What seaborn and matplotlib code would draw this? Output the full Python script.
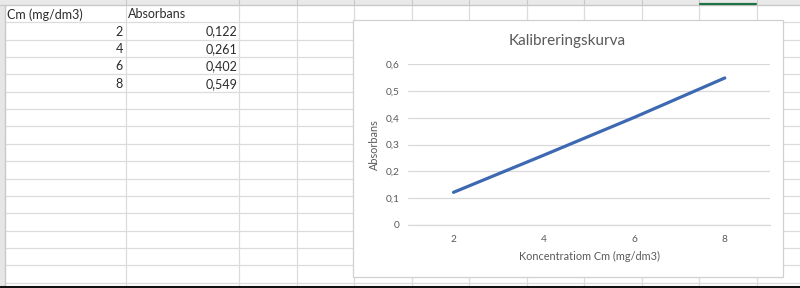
import matplotlib
matplotlib.use("Agg")
import matplotlib.pyplot as plt
import seaborn as sns
import pandas as pd
from matplotlib.patches import Rectangle

# ---- data ----
cm_values = [2, 4, 6, 8]
absorbans = [0.122, 0.261, 0.402, 0.549]
col_headers = ["Cm (mg/dm3)", "Absorbans"]
y_ticks = [0, 0.1, 0.2, 0.3, 0.4, 0.5, 0.6]
x_ticks = [2, 4, 6, 8]
title = "Kalibreringskurva"
x_label = "Koncentratiom Cm (mg/dm3)"
y_label = "Absorbans"

def fmt(v):
    s = f"{v:g}"
    return s.replace(".", ",")

sns.set_theme(style="white")
FONT = ["Lato", "DejaVu Sans"]
plt.rcParams["font.family"] = FONT

W, H = 800, 288
fig = plt.figure(figsize=(W / 100, H / 100), dpi=100)

# ---- spreadsheet background ----
bg = fig.add_axes([0, 0, 1, 1])
bg.set_xlim(0, W)
bg.set_ylim(H, 0)
bg.axis("off")

col_edges = [5, 125.7, 239.3, 296.8, 354.3, 411.8, 469.3, 526.8, 584.3, 641.8, 699.3, 756.8, 814.3]
row_h = 17.35
row_lines = [5 + row_h * k for k in range(17)]
gcol = "#dcdcdc"
for y in row_lines[1:]:
    bg.plot([5, W], [y, y], color=gcol, lw=0.9, solid_capstyle="butt")
for x in col_edges[1:]:
    bg.plot([x, x], [5, 285], color=gcol, lw=0.9)

# column header strip
bg.add_patch(Rectangle((0, 0), W, 5, color="#e9e9e9", lw=0))
bg.plot([0, W], [5, 5], color="#c8c8c8", lw=1.0)
for x in col_edges[1:]:
    bg.plot([x, x], [0, 5], color="#c8c8c8", lw=0.8)
bg.plot([col_edges[10] + 1, col_edges[11] - 1], [4.4, 4.4], color="#217346", lw=1.6)
# row header strip
bg.add_patch(Rectangle((0, 5), 5, H, color="#e6e6e6", lw=0))
bg.plot([5, 5], [5, H], color="#c8c8c8", lw=1.0)
bg.plot([0, W], [286.8, 286.8], color="#111111", lw=2.2)

tcol = "#2b2b2b"
row_c = [5 + row_h * (k + 0.5) + 0.6 for k in range(6)]
fs = 9
bg.text(7, row_c[0], col_headers[0], ha="left", va="center", fontsize=fs, color=tcol)
bg.text(128, row_c[0], col_headers[1], ha="left", va="center", fontsize=fs, color=tcol)
for i, (c, a) in enumerate(zip(cm_values, absorbans)):
    bg.text(123, row_c[i + 1], str(c), ha="right", va="center", fontsize=fs, color=tcol)
    bg.text(237, row_c[i + 1], fmt(a), ha="right", va="center", fontsize=fs, color=tcol)

# ---- chart object ----
cx0, cy0, cx1, cy1 = 352.7, 20, 782.7, 276.7
bg.add_patch(Rectangle((cx0 + 1.5, cy0 + 1.5), cx1 - cx0, cy1 - cy0, facecolor="#e4e4e4", edgecolor="none", zorder=3))
bg.add_patch(Rectangle((cx0, cy0), cx1 - cx0, cy1 - cy0, facecolor="white", edgecolor="#d0d0d0", lw=0.9, zorder=4))
bg.text(567.5, 41.5, title, ha="center", va="center", fontsize=11, color="#595959", zorder=5)

pl, pr, pt, pb = 408.3, 770, 64.3, 225
ax = fig.add_axes([pl / W, (H - pb) / H, (pr - pl) / W, (pb - pt) / H])
ax.set_zorder(6)
ax.patch.set_alpha(0)
df = pd.DataFrame({"Cm": cm_values, "Absorbans": absorbans})
sns.lineplot(data=df, x="Cm", y="Absorbans", ax=ax, color="#3d69b3", lw=2.3, solid_capstyle="round")
ax.set_xlim(1, 9)
ax.set_ylim(0, 0.6)
ax.set_yticks(y_ticks)
ax.set_yticklabels([fmt(v) for v in y_ticks])
ax.set_xticks(x_ticks)
ax.set_xticklabels([str(v) for v in x_ticks])
ax.yaxis.grid(True, color="#d9d9d9", lw=0.9)
ax.xaxis.grid(False)
ax.set_axisbelow(True)
for s in ["top", "left", "right"]:
    ax.spines[s].set_visible(False)
ax.spines["bottom"].set_color("#d9d9d9")
ax.spines["bottom"].set_linewidth(0.9)
ax.tick_params(axis="both", length=0, labelsize=7.3, labelcolor="#595959")
ax.tick_params(axis="y", pad=6.5)
ax.tick_params(axis="x", pad=7)
ax.set_xlabel(x_label, fontsize=7.8, color="#595959", labelpad=5)
ax.set_ylabel(y_label, fontsize=7.8, color="#595959", labelpad=3.5)

fig.savefig("out.png", dpi=100)
